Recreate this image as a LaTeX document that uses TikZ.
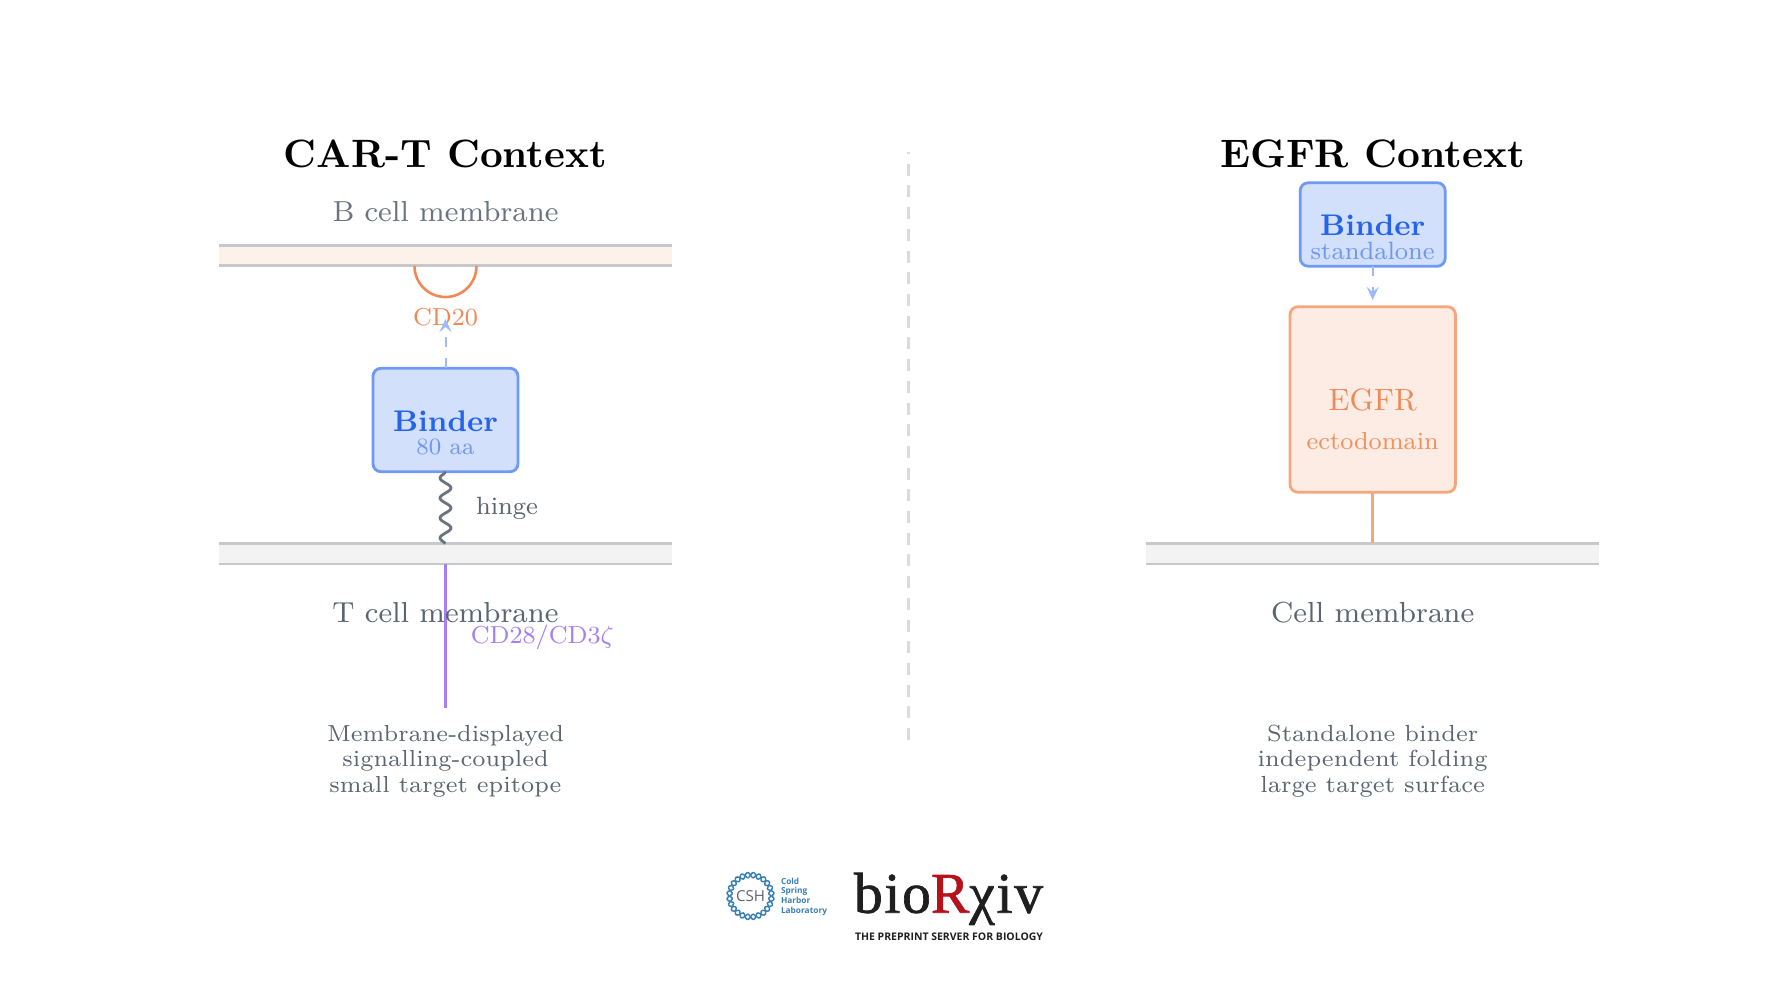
\documentclass[tikz,border=0pt]{standalone}
\usepackage{fontspec}
\usepackage{graphicx}
\usetikzlibrary{arrows.meta}
\newfontfamily\logoserif[LetterSpace=3,FakeBold=1.2]{Liberation Serif}
\newfontfamily\logosans{Open Sans}
\definecolor{greytxt}{HTML}{6B7280}
\definecolor{darkgrey}{HTML}{5B6470}
\definecolor{memline}{HTML}{C6C8CB}
\definecolor{bluefill}{HTML}{D2E0FB}
\definecolor{blueline}{HTML}{7099F3}
\definecolor{bluetxt}{HTML}{2563EB}
\definecolor{bluesub}{HTML}{6F97F0}
\definecolor{bluearrow}{HTML}{9DBBF8}
\definecolor{orangefill}{HTML}{FCECE3}
\definecolor{orangeline}{HTML}{F5A67F}
\definecolor{orangetxt}{HTML}{EF8A57}
\definecolor{purpleline}{HTML}{A47FF5}
\definecolor{csh}{HTML}{3A80B8}
\definecolor{biored}{HTML}{B5121B}
\definecolor{memB}{HTML}{FDF2EA}
\definecolor{memG}{HTML}{F3F3F3}
\definecolor{sepc}{HTML}{DADBDD}
\newcommand{\fitw}[2]{\resizebox{#1pt}{!}{#2}}
\newcommand{\smf}{\fontsize{8}{9}\selectfont}
\newcommand{\capblock}[4]{\resizebox{#1pt}{!}{\fontsize{7}{#2}\selectfont\begin{tabular}[t]{@{}c@{}}#3\\#4\end{tabular}}}
\tikzset{
  txt/.style={anchor=base,inner sep=0pt,outer sep=0pt},
  membrane/.style={draw=none,minimum width=453pt,minimum height=20.5pt,inner sep=0pt,outer sep=0pt},
  memedge/.style={draw=memline,line width=2.6pt},
  boxblue/.style={draw=blueline,fill=bluefill,line width=2.8pt,rounded corners=8pt,inner sep=0pt,outer sep=0pt},
  boxorange/.style={draw=orangeline,fill=orangefill,line width=2.8pt,rounded corners=8pt,inner sep=0pt,outer sep=0pt},
  dasharrow/.style={draw=bluearrow,line width=2pt,dash pattern=on 10pt off 11pt,-{Stealth[length=13pt,width=12pt,inset=5pt,color=bluearrow]}}
}
\begin{document}
\begin{tikzpicture}[x=1pt,y=-1pt]
\useasboundingbox[fill=white] (0,0) rectangle (1780,1000);
% separator
\coordinate (septop) at (908.7,152);
\coordinate (sepbot) at (908.7,740);
\draw[draw=sepc,line width=3pt,dash pattern=on 12pt off 9.7pt] (sepbot) -- (septop);
% left panel
\node[txt] (titleA) at (445.5,167.5) {\fitw{323}{\fontsize{10}{12}\selectfont\bfseries CAR-T Context}};
\node[txt,text=greytxt] (bcell) at (445.5,222) {\fitw{226}{\smf B cell membrane}};
\node[membrane,fill=memB] (memB) at (445.5,255.5) {};
\draw[memedge] (memB.north west) -- (memB.north east);
\draw[memedge] (memB.south west) -- (memB.south east);
\coordinate (cdl) at (414.5,266);
\draw[draw=orangetxt,line width=2.6pt] (cdl) arc[start angle=180,end angle=0,radius=31];
\node[txt,text=orangetxt] (cd20) at (445.5,325.5) {\fitw{65}{\smf CD20}};
\node[boxblue,minimum width=145pt,minimum height=103.5pt] (binderA) at (445.5,420) {};
\node[txt,text=bluetxt] (binderAt) at (445.5,431.5) {\fitw{105}{\fontsize{9}{11}\selectfont\bfseries Binder}};
\node[txt,text=bluesub] (binderAs) at (445.5,454) {\fitw{58}{\smf 80 aa}};
\coordinate (tipA) at (445.5,319);
\draw[dasharrow] (binderA.north) -- (tipA);
\node[membrane,fill=memG] (memT) at (445.5,553.7) {};
\draw[memedge] (memT.north west) -- (memT.north east);
\draw[memedge] (memT.south west) -- (memT.south east);
\draw[draw=darkgrey!90!white,line width=2.8pt,line join=round] (binderA.south) -- plot[smooth,samples=50,domain=474:541,variable=\yy] ({445.5-5.5*cos(18*(\yy-478))},\yy) -- (memT.north);
\node[txt,text=darkgrey] (hinge) at (507,514.5) {\fitw{62}{\smf hinge}};
\coordinate (cdend) at (445.5,708);
\draw[draw=purpleline,line width=2.6pt] (memT.south) -- (cdend);
\node[txt,text=darkgrey] (tcell) at (445.5,622) {\fitw{226}{\smf T cell membrane}};
\node[txt,text=purpleline] (cd28) at (542.3,643) {\fitw{143}{\smf CD28/CD3$\zeta$}};
\node[txt,text=darkgrey] (capA) at (445.5,741) {\capblock{237}{7.8}{Membrane-displayed\\signalling-coupled}{small target epitope}};
% right panel
\node[txt] (titleB) at (1372.7,167.5) {\fitw{305}{\fontsize{10}{12}\selectfont\bfseries EGFR Context}};
\node[boxblue,minimum width=145pt,minimum height=83.5pt] (binderB) at (1372.7,224.5) {};
\node[txt,text=bluetxt] (binderBt) at (1372.7,236) {\fitw{105}{\fontsize{9}{11}\selectfont\bfseries Binder}};
\node[txt,text=bluesub] (binderBs) at (1372.7,259.5) {\fitw{124}{\smf standalone}};
\node[boxorange,minimum width=165.5pt,minimum height=185.5pt] (egfr) at (1372.7,399.5) {};
\node[txt,text=orangetxt] (egfrt) at (1372.7,410) {\fitw{88}{EGFR}};
\node[txt,text=orangetxt!80!orangeline] (egfrs) at (1372.7,449.5) {\fitw{132}{\smf ectodomain}};
\coordinate (tipB) at (1372.7,300);
\draw[dasharrow] (binderB.south) -- (tipB);
\node[membrane,fill=memG] (memR) at (1372.7,553.7) {};
\draw[memedge] (memR.north west) -- (memR.north east);
\draw[memedge] (memR.south west) -- (memR.south east);
\draw[draw=orangeline,line width=2.8pt] (egfr.south) -- (memR.north);
\node[txt,text=darkgrey] (ccell) at (1372.7,622) {\fitw{203}{\smf Cell membrane}};
\node[txt,text=darkgrey] (capB) at (1372.7,741) {\capblock{230}{7.8}{Standalone binder\\independent folding}{large target surface}};
% logos
\begin{scope}[shift={(750.5,896)}]
\draw[draw=csh,line width=1.5pt] plot[smooth,samples=160,domain=0:360,variable=\t] ({(21+2.6*sin(12*\t))*cos(\t)},{(21+2.6*sin(12*\t))*sin(\t)});
\draw[draw=csh,line width=1.5pt] plot[smooth,samples=160,domain=0:360,variable=\t] ({(21-2.6*sin(12*\t))*cos(\t)},{(21-2.6*sin(12*\t))*sin(\t)});
\node[txt,text=darkgrey] (cshtxt) at (0,5.5) {\fitw{29}{\logosans CSH}};
\end{scope}
\node[txt,text=csh,anchor=base west] (cshname) at (781,884) {\fitw{46}{\logosans\bfseries\begin{tabular}[t]{@{}l@{}}Cold\\Spring\\Harbor\\Laboratory\end{tabular}}};
\node[txt,text=black!88] (biorxiv) at (948.5,912.7) {\fitw{189}{\logoserif bio{\color{biored}R}χiv}};
\node[txt,text=black!88] (tagline) at (949,940.7) {\fitw{188}{\logosans\bfseries THE PREPRINT SERVER FOR BIOLOGY}};
\end{tikzpicture}
\end{document}
